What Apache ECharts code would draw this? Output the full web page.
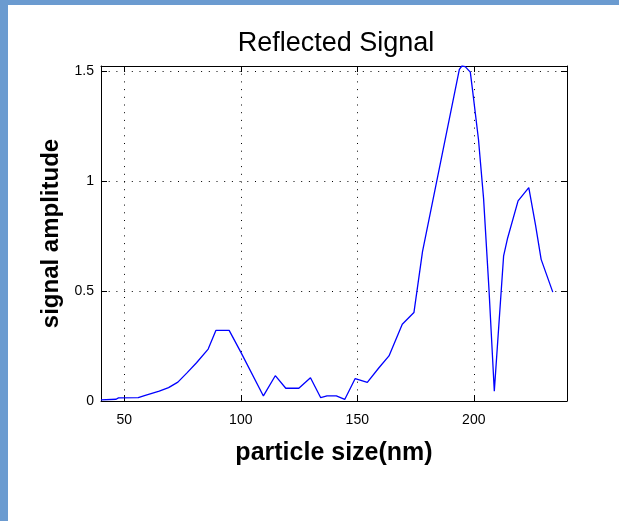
<!DOCTYPE html>
<html>
<head>
<meta charset="utf-8">
<script src="https://cdn.jsdelivr.net/npm/echarts@6/dist/echarts.min.js"></script>
<style>
html,body{margin:0;padding:0;background:#fff;}
#main{width:619px;height:521px;}
</style>
</head>
<body>
<div id="main"></div>
<script>
// particle size (nm)
const sizes = [40, 46.5, 47.5, 56, 59, 65, 69, 73, 77, 81, 86, 89.3, 95, 100,
  109.7, 114.8, 119.3, 124.9, 129.9, 134.3, 137, 141, 144.6, 149.1, 154.3, 159.2,
  163.6, 169.3, 174.3, 178, 193.8, 194.9, 196.3, 198.5, 199.5, 202, 204.2, 206.5,
  208.8, 212.8, 214.5, 219, 223.6, 226.5, 228.9, 233.9];
// signal amplitude
const amplitudes = [0.005, 0.008, 0.014, 0.015, 0.026, 0.045, 0.061, 0.086, 0.129, 0.174, 0.236, 0.321, 0.321, 0.222,
  0.023, 0.115, 0.058, 0.058, 0.106, 0.015, 0.023, 0.023, 0.007, 0.102, 0.085, 0.15,
  0.205, 0.349, 0.402, 0.68, 1.508, 1.523, 1.52, 1.495, 1.41, 1.19, 0.92, 0.51,
  0.045, 0.66, 0.74, 0.91, 0.97, 0.8, 0.644, 0.495];
const xTicks = [50, 100, 150, 200];
const yTicks = [0, 0.5, 1, 1.5];

const chart = echarts.init(document.getElementById('main'), null, {renderer: 'canvas'});
const points = sizes.map((s, i) => [s, amplitudes[i]]);
const dotted = {color: '#000', width: 1, type: [1, 6.7]};
const fontFam = '"Liberation Sans", Arial, Helvetica, sans-serif';

const xCommon = {
  type: 'value', min: 40, max: 240, splitNumber: 4,
  axisLine: {show: true, onZero: false, lineStyle: {color: '#000', width: 1}},
  axisTick: {show: true, inside: true, length: 6, lineStyle: {color: '#000'}}
};
const yCommon = {
  type: 'value', min: 0, max: 1.523, interval: 0.5,
  axisLine: {show: true, onZero: false, lineStyle: {color: '#000', width: 1}},
  axisTick: {show: true, inside: true, length: 6, lineStyle: {color: '#000'}}
};

chart.setOption({
  animation: false,
  backgroundColor: '#fff',
  graphic: [
    {type: 'rect', shape: {x: 0, y: 0, width: 619, height: 5}, style: {fill: '#6b9bd0'}, silent: true},
    {type: 'rect', shape: {x: 0, y: 0, width: 8, height: 521}, style: {fill: '#6b9bd0'}, silent: true}
  ],
  title: {
    text: 'Reflected Signal', left: 331, top: 25, textAlign: 'center',
    textStyle: {fontFamily: fontFam, fontSize: 27, fontWeight: 'normal', color: '#000'}
  },
  grid: {left: 101, right: 52, top: 66, bottom: 120, containLabel: false},
  xAxis: [
    Object.assign({}, xCommon, {
      position: 'bottom',
      name: 'particle size(nm)', nameLocation: 'middle', nameGap: 40,
      nameTextStyle: {fontFamily: fontFam, fontSize: 25, fontWeight: 'bold', color: '#000'},
      axisLabel: {
        show: true, margin: 12, color: '#000', fontFamily: fontFam, fontSize: 14,
        formatter: v => (xTicks.indexOf(v) >= 0 ? String(v) : '')
      },
      splitLine: {show: true, lineStyle: dotted}
    }),
    Object.assign({}, xCommon, {position: 'top', axisLabel: {show: false}, splitLine: {show: false}})
  ],
  yAxis: [
    Object.assign({}, yCommon, {
      position: 'left',
      name: 'signal amplitude', nameLocation: 'middle', nameGap: 37,
      nameTextStyle: {fontFamily: fontFam, fontSize: 24, fontWeight: 'bold', color: '#000'},
      axisLabel: {
        show: true, margin: 7, color: '#000', fontFamily: fontFam, fontSize: 14,
        formatter: v => (yTicks.indexOf(v) >= 0 ? String(v) : '')
      },
      splitLine: {show: true, lineStyle: dotted}
    }),
    Object.assign({}, yCommon, {position: 'right', axisLabel: {show: false}, splitLine: {show: false}})
  ],
  series: [{
    type: 'line', data: points, xAxisIndex: 0, yAxisIndex: 0,
    showSymbol: false, symbol: 'none', clip: true,
    lineStyle: {color: '#0000ff', width: 1.3}
  }]
});
</script>
</body>
</html>
